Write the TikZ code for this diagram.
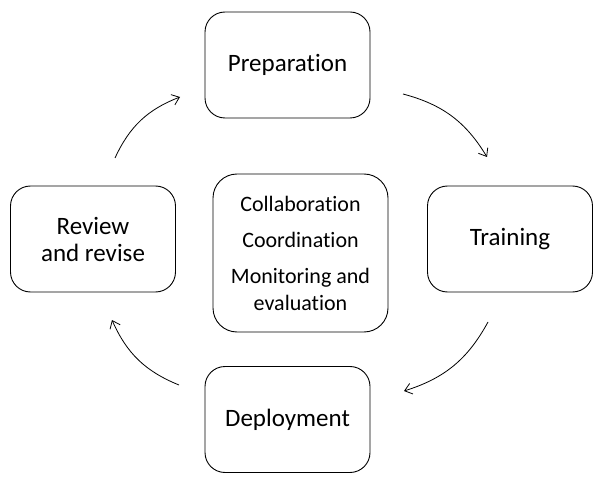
\documentclass[tikz,border=0pt]{standalone}
\usepackage{fontspec}
\setmainfont[Ligatures=NoCommon]{Carlito}
\usetikzlibrary{arrows.meta}

\tikzset{
	stage/.style={draw, line width=0.9pt, rounded corners=20pt, minimum width=165pt, minimum height=106pt, align=center, font=\fontsize{25}{27}\selectfont},
	core/.style={draw, line width=0.9pt, rounded corners=24pt, minimum width=175pt, minimum height=158pt, align=center, font=\fontsize{22}{27}\selectfont},
	cycle/.style={line width=0.8pt, -{Straight Barb[length=7pt, width=11pt]}, bend left=22}
}

\begin{document}
\begin{tikzpicture}[x=1pt, y=-1pt]
		\useasboundingbox (0,0) rectangle (600,481);
	
		\node [stage] (preparation) at (287.5,65) {Preparation};
		\node [stage] (training) at (510,239) {Training};
		\node [stage] (deployment) at (287.5,419.5) {Deployment};
		\node [stage] (review) at (93,239) {Review\\and revise};
		
		\node [core] (tasks) at (300.5,253) {Collaboration\\[9pt] Coordination\\[9pt] Monitoring and\\evaluation};
		
		\coordinate (p out) at (403,94);
		\coordinate (t in) at (487,157);
		\coordinate (t out) at (488,322);
		\coordinate (d in) at (404,391);
		\coordinate (d out) at (179,385);
		\coordinate (r in) at (112,320);
		\coordinate (r out) at (115,158);
		\coordinate (p in) at (180,97);
		
		\draw [cycle] (p out) to (t in);
		\draw [cycle] (t out) to (d in);
		\draw [cycle] (d out) to (r in);
		\draw [cycle] (r out) to (p in);
		
	\end{tikzpicture}
\end{document}
